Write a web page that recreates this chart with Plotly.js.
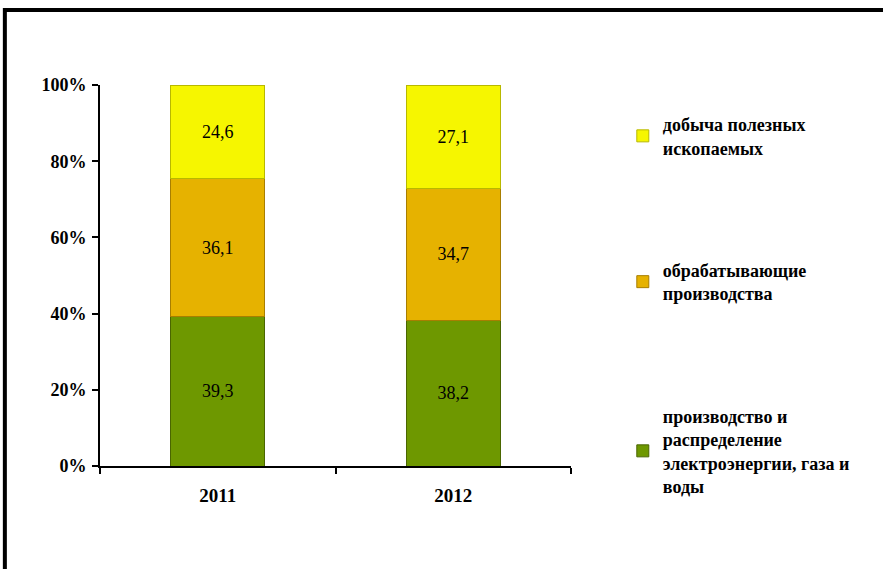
<!DOCTYPE html>
<html>
<head>
<meta charset="utf-8">
<script src="https://cdn.plot.ly/plotly-3.0.1.min.js"></script>
<style>
html,body{margin:0;padding:0;background:#fff;}
#chart{width:883px;height:569px;}
</style>
</head>
<body>
<div id="chart"></div>
<script>
const years = ['2011', '2012'];
const seriesNames = [
  'производство и<br>распределение<br>электроэнергии, газа и<br>воды',
  'обрабатывающие<br>производства',
  'добыча полезных<br>ископаемых'
];
const energy = [39.3, 38.2];
const manufacturing = [36.1, 34.7];
const mining = [24.6, 27.1];
const yTickVals = [0, 20, 40, 60, 80, 100];
const yTickText = ['0%', '20%', '40%', '60%', '80%', '100%'];

const colors = ['#6E9800', '#E6B200', '#F6F600'];
const lineColors = ['#4A6600', '#A87E00', '#B8B800'];
const values = [energy, manufacturing, mining];
const ranks = [3, 2, 1];

const fmt = v => v.toFixed(1).replace('.', ',');

const traces = values.map((vals, i) => ({
  type: 'bar',
  x: years,
  y: vals,
  name: seriesNames[i],
  legendgroup: 'g' + i,
  legendrank: ranks[i],
  text: vals.map(fmt),
  textposition: 'inside',
  insidetextanchor: 'middle',
  textangle: 0,
  textfont: {family: 'Liberation Serif, Times New Roman, serif', size: 18, color: '#000'},
  hoverinfo: 'x+y+name',
  marker: {color: colors[i], line: {color: lineColors[i], width: 1}}
}));

const layout = {
  width: 883,
  height: 569,
  paper_bgcolor: '#fff',
  plot_bgcolor: '#fff',
  barmode: 'stack',
  bargap: 0.6,
  showlegend: true,
  margin: {l: 100, r: 312, t: 85, b: 103, pad: 0},
  xaxis: {
    type: 'category',
    showline: true,
    linecolor: '#000',
    linewidth: 2,
    ticks: 'outside',
    tickson: 'boundaries',
    ticklen: 6,
    tickwidth: 2,
    tickcolor: '#000',
    showgrid: false,
    zeroline: false,
    ticklabelstandoff: 11,
    tickfont: {family: 'Liberation Serif, Times New Roman, serif', size: 19, color: '#000', weight: 'bold'}
  },
  yaxis: {
    range: [0, 100],
    tickvals: yTickVals,
    ticktext: yTickText,
    showline: true,
    linecolor: '#000',
    linewidth: 2,
    ticks: 'outside',
    ticklen: 6,
    tickwidth: 2,
    tickcolor: '#000',
    showgrid: false,
    zeroline: false,
    ticklabelstandoff: 2,
    tickfont: {family: 'Liberation Serif, Times New Roman, serif', size: 18, color: '#000', weight: 'bold'}
  },
  legend: {
    x: 1.11,
    xanchor: 'left',
    y: 0.945,
    yanchor: 'top',
    traceorder: 'grouped',
    tracegroupgap: 96,
    itemwidth: 30,
    maxheight: 480,
    bgcolor: 'rgba(0,0,0,0)',
    font: {family: 'Liberation Serif, Times New Roman, serif', size: 18, color: '#000', weight: 'bold'}
  },
  shapes: [{
    type: 'rect',
    xref: 'paper', yref: 'paper',
    x0: -0.202, x1: 1.8,
    y0: -0.4, y1: 1.197,
    line: {color: '#000', width: 4},
    fillcolor: 'rgba(0,0,0,0)',
    layer: 'below'
  }]
};

Plotly.newPlot('chart', traces, layout, {displayModeBar: false, staticPlot: true});
</script>
</body>
</html>
